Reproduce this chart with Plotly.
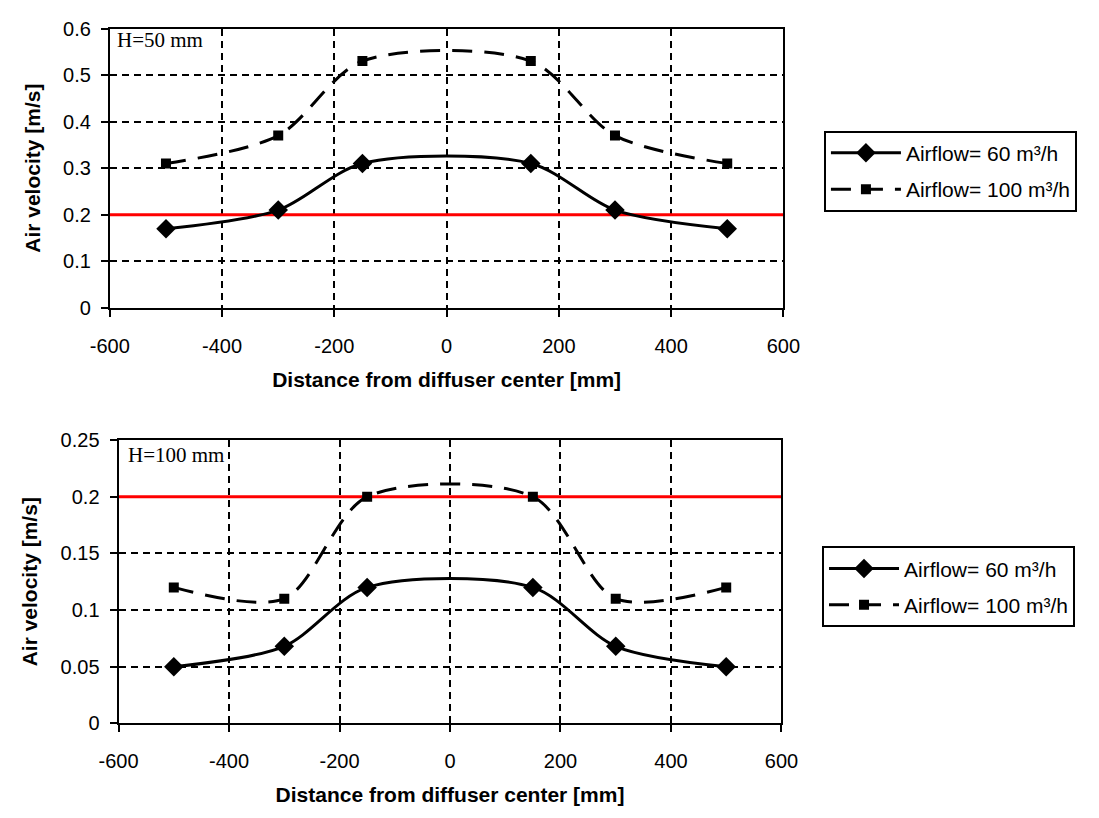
import plotly.graph_objects as go

x_pos = [-500, -300, -150, 150, 300, 500]
top_60 = [0.17, 0.21, 0.31, 0.31, 0.21, 0.17]
top_100 = [0.31, 0.37, 0.53, 0.53, 0.37, 0.31]
bot_60 = [0.05, 0.068, 0.12, 0.12, 0.068, 0.05]
bot_100 = [0.12, 0.11, 0.20, 0.20, 0.11, 0.12]
limit = 0.2
x_range = [-600, 600]
x_ticks = [-600, -400, -200, 0, 200, 400, 600]
x_ticktext = ["-600", "-400", "-200", "0", "200", "400", "600"]
top_yticks = [0, 0.1, 0.2, 0.3, 0.4, 0.5, 0.6]
top_yticktext = ["0", "0.1", "0.2", "0.3", "0.4", "0.5", "0.6"]
bot_yticks = [0, 0.05, 0.1, 0.15, 0.2, 0.25]
bot_yticktext = ["0", "0.05", "0.1", "0.15", "0.2", "0.25"]
name_60 = "Airflow= 60 m³/h"
name_100 = "Airflow= 100 m³/h"

fig = go.Figure()

def add_panel(xa, ya, y60, y100, leg):
    fig.add_trace(go.Scatter(x=x_range, y=[limit, limit], mode="lines",
                             line=dict(color="#ff0000", width=3), showlegend=False,
                             xaxis=xa, yaxis=ya, hoverinfo="skip"))
    fig.add_trace(go.Scatter(x=x_pos, y=y60, mode="lines+markers", name=name_60,
                             legendgroup=leg + "a",
                             line=dict(color="black", width=3, shape="spline", smoothing=0.85),
                             marker=dict(symbol="diamond", size=15, color="black"),
                             xaxis=xa, yaxis=ya, legend=leg))
    fig.add_trace(go.Scatter(x=x_pos, y=y100, mode="lines+markers", name=name_100,
                             legendgroup=leg + "b",
                             line=dict(color="black", width=3, shape="spline", smoothing=0.85,
                                       dash="20px,12px"),
                             marker=dict(symbol="square", size=10, color="black"),
                             xaxis=xa, yaxis=ya, legend=leg))

add_panel("x", "y", top_60, top_100, "legend")
add_panel("x2", "y2", bot_60, bot_100, "legend2")

FONT = "Liberation Sans, Arial, sans-serif"
tickfont = dict(family=FONT, size=20, color="black")
titlefont = dict(family=FONT, size=21, color="black", weight="bold")

xcommon = dict(range=x_range, tickvals=x_ticks, ticktext=x_ticktext, showline=True,
               linecolor="black", linewidth=2, mirror=True, ticks="outside", ticklen=7,
               tickcolor="black", tickwidth=2, ticklabelstandoff=12,
               showgrid=True, gridcolor="black", griddash="7px,5px", gridwidth=2,
               zeroline=False, tickfont=tickfont,
               title=dict(text="Distance from diffuser center [mm]", font=titlefont, standoff=16))
ycommon = dict(showline=True, linecolor="black", linewidth=2, mirror=True,
               ticks="outside", ticklen=7, tickcolor="black", tickwidth=2, ticklabelstandoff=6,
               showgrid=True, gridcolor="black", griddash="7px,5px", gridwidth=2,
               zeroline=False, tickfont=tickfont,
               title=dict(text="Air velocity [m/s]", font=titlefont, standoff=17))

legfont = dict(family=FONT, size=21, color="black")

fig.update_layout(
    width=1099, height=818, margin=dict(l=0, r=0, t=0, b=0),
    paper_bgcolor="white", plot_bgcolor="white",
    xaxis=dict(domain=[0.0846, 0.7188], anchor="y", **xcommon),
    yaxis=dict(domain=[0.6271, 0.978], anchor="x", range=[0, 0.6], tickvals=top_yticks,
               ticktext=top_yticktext, **ycommon),
    xaxis2=dict(domain=[0.0928, 0.717], anchor="y2", **xcommon),
    yaxis2=dict(domain=[0.1051, 0.4609], anchor="x2", range=[0, 0.25], tickvals=bot_yticks,
                ticktext=bot_yticktext, **ycommon),
    legend=dict(x=0.757, y=0.8496, xanchor="left", yanchor="top", bordercolor="black",
                borderwidth=2, bgcolor="white", font=legfont, itemwidth=70,
                tracegroupgap=6),
    legend2=dict(x=0.7552, y=0.3276, xanchor="left", yanchor="top", bordercolor="black",
                 borderwidth=2, bgcolor="white", font=legfont, itemwidth=70,
                 tracegroupgap=6),
    annotations=[
        dict(text="H=50 mm", xref="x domain", yref="y domain", x=0.008, y=0.958,
             xanchor="left", yanchor="middle", showarrow=False,
             font=dict(family="Liberation Serif, Times New Roman, serif", size=21, color="black")),
        dict(text="H=100 mm", xref="x2 domain", yref="y2 domain", x=0.0117, y=0.948,
             xanchor="left", yanchor="middle", showarrow=False,
             font=dict(family="Liberation Serif, Times New Roman, serif", size=21, color="black")),
    ],
)

fig.write_html("out.html")
